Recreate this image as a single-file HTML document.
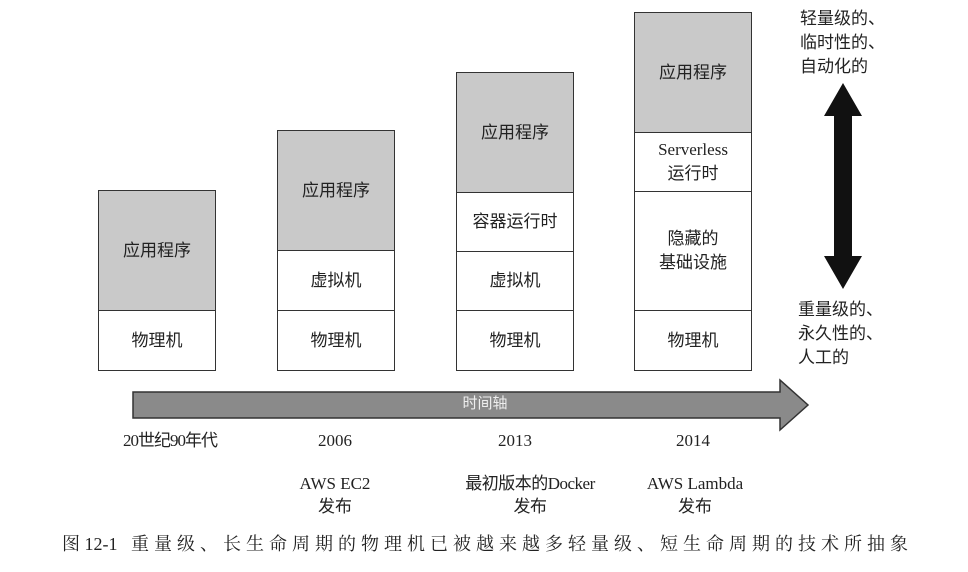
<!DOCTYPE html>
<html><head><meta charset="utf-8"><style>
body{margin:0;width:968px;height:572px;background:#fff;position:relative;overflow:hidden;font-family:"Liberation Serif","Noto Serif CJK SC",serif;color:#222}
.b{position:absolute;border:1px solid #333;box-sizing:border-box;display:flex;align-items:center;justify-content:center;text-align:center;font-size:17px;line-height:24px;background:#fff;font-family:"Liberation Serif","Noto Sans CJK SC",serif}
.b.g{background:#c9c9c9}
.t{position:absolute;font-size:17px;line-height:23px;text-align:center;font-family:"Liberation Serif","Noto Sans CJK SC",serif}
</style></head><body>
<div class="b g" style="left:98px;top:190px;width:118px;height:121px">应用程序</div>
<div class="b" style="left:98px;top:310px;width:118px;height:61px;">物理机</div>
<div class="b g" style="left:277px;top:130px;width:118px;height:121px">应用程序</div>
<div class="b" style="left:277px;top:250px;width:118px;height:61px">虚拟机</div>
<div class="b" style="left:277px;top:310px;width:118px;height:61px">物理机</div>
<div class="b g" style="left:456px;top:72px;width:118px;height:121px">应用程序</div>
<div class="b" style="left:456px;top:192px;width:118px;height:60px">容器运行时</div>
<div class="b" style="left:456px;top:251px;width:118px;height:60px">虚拟机</div>
<div class="b" style="left:456px;top:310px;width:118px;height:61px">物理机</div>
<div class="b g" style="left:634px;top:12px;width:118px;height:121px">应用程序</div>
<div class="b" style="left:634px;top:132px;width:118px;height:60px">Serverless<br>运行时</div>
<div class="b" style="left:634px;top:191px;width:118px;height:120px">隐藏的<br>基础设施</div>
<div class="b" style="left:634px;top:310px;width:118px;height:61px">物理机</div>
<svg style="position:absolute;left:0;top:0" width="968" height="572">
<polygon points="133,392 780,392 780,380 808,405 780,430 780,418 133,418" fill="#8a8a8a" stroke="#333" stroke-width="1.5"/>
<polygon points="843,83 862,116 852,116 852,256 862,256 843,289 824,256 834,256 834,116 824,116" fill="#111"/>
</svg>
<div class="t" style="left:430px;top:393px;width:110px;color:#eee;font-size:15px">时间轴</div>
<div class="t" style="left:100px;top:429px;width:140px;letter-spacing:-1px">20世纪90年代</div>
<div class="t" style="left:290px;top:429px;width:90px">2006</div>
<div class="t" style="left:470px;top:429px;width:90px">2013</div>
<div class="t" style="left:648px;top:429px;width:90px">2014</div>
<div class="t" style="left:270px;top:472px;width:130px">AWS EC2<br>发布</div>
<div class="t" style="left:430px;top:472px;width:200px;letter-spacing:-0.5px">最初版本的Docker<br>发布</div>
<div class="t" style="left:630px;top:472px;width:130px">AWS Lambda<br>发布</div>
<div class="t" style="left:800px;top:7px;text-align:left;line-height:24px">轻量级的、<br>临时性的、<br>自动化的</div>
<div class="t" style="left:798px;top:298px;text-align:left;line-height:24px">重量级的、<br>永久性的、<br>人工的</div>
<div class="t" style="left:62px;top:533px;text-align:left;font-size:18px;font-family:'Liberation Serif','Noto Serif CJK SC',serif;white-space:nowrap">图 12-1&nbsp;&nbsp;&nbsp;<span style="letter-spacing:5px">重量级、长生命周期的物理机已被越来越多轻量级、短生命周期的技术所抽象</span></div>
</body></html>
